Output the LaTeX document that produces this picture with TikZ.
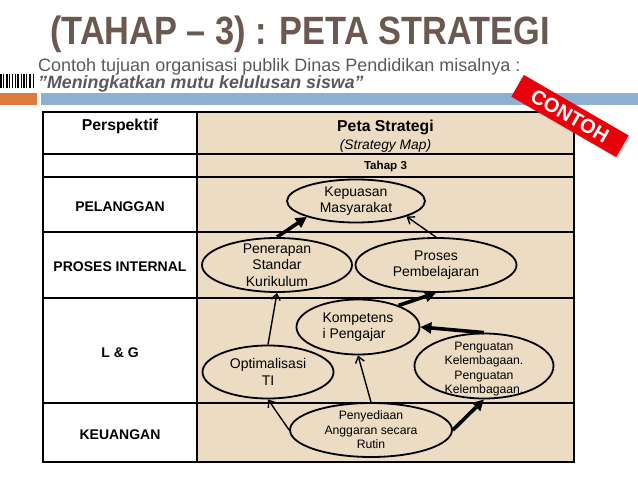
\documentclass[tikz,border=0pt]{standalone}
\usepackage{fontspec}
\setmainfont{Liberation Sans}
\newfontfamily\judulfont{Liberation Sans}[FakeStretch=0.87]
\usetikzlibrary{shapes.geometric,arrows.meta,shadows}

\definecolor{peta}{HTML}{EBDCC3}
\definecolor{judul}{HTML}{6B5850}
\definecolor{teks}{HTML}{595959}
\definecolor{oranye}{HTML}{DE7B3F}
\definecolor{biru}{HTML}{8EB1D1}
\definecolor{merah}{HTML}{E8000B}

\tikzset{
  sasaran/.style={draw, ellipse, line width=1.8pt, fill=peta, inner sep=0pt},
  isi/.style={align=center, inner sep=0pt, font=\fontsize{14}{16.7}\selectfont},
  isikecil/.style={align=center, inner sep=0pt, font=\fontsize{12.2}{14.6}\selectfont},
  persp/.style={anchor=base, inner sep=0pt, font=\fontsize{14}{16}\selectfont\bfseries},
  tebal/.style={line width=3.6pt, -{Triangle[length=11pt,width=11pt]}},
  tipis/.style={line width=1.4pt, -{Straight Barb[length=6pt,width=9pt]}}
}

\begin{document}
\begin{tikzpicture}[x=1pt,y=-1pt]
	\useasboundingbox (0,0) rectangle (638,479);
	%Judul
	\node[anchor=base west, inner sep=0pt, text=judul, font=\judulfont\fontsize{39.5}{40}\selectfont\bfseries] (judul) at (50,45) {(TAHAP – 3) : PETA STRATEGI};
	\node[anchor=base west, inner sep=0pt, text=teks, font=\fontsize{18}{20}\selectfont] (contohteks) at (38,71) {Contoh tujuan organisasi publik Dinas Pendidikan misalnya :};
	\node[anchor=base west, inner sep=0pt, text=teks, font=\fontsize{17.8}{20}\selectfont\bfseries\itshape] (kutipan) at (38,88) {”Meningkatkan mutu kelulusan siswa”};
	%Hiasan kiri
	\foreach \x/\w in {0/1.5, 3/1, 5.5/2, 9/1, 11.5/1.5, 14.5/1, 17/2, 20.5/1, 23/1.5, 26/1, 28.5/2.5, 32.5/1}
		{\fill (\x,74) rectangle ++(\w,14);}
	\fill[oranye] (0,92.5) rectangle (36.5,104.5);
	\fill[biru] (40.5,92.5) rectangle (638,104.5);
	%Tabel
	\fill[peta] (197,112) rectangle (574,462);
	\draw[line width=1.3pt] (43,112) rectangle (574,462);
	\draw[line width=1.3pt] (197,112) -- (197,462);
	\foreach \y in {154,177,232,298,403}
		{\draw[line width=1.3pt] (43,\y) -- (574,\y);}
	\node[persp, font=\fontsize{15.8}{18}\selectfont\bfseries] (perspektif) at (120,130) {Perspektif};
	\node[persp] (pelanggan) at (120,211) {PELANGGAN};
	\node[persp] (internal) at (120,271) {PROSES INTERNAL};
	\node[persp] (lg) at (120,357) {L \& G};
	\node[persp] (keuangan) at (120,439) {KEUANGAN};
	\node[persp, font=\fontsize{15.8}{18}\selectfont\bfseries] (petastrategi) at (385.5,131) {Peta Strategi};
	\node[anchor=base, inner sep=0pt, font=\fontsize{13.8}{16}\selectfont\itshape] (strategymap) at (385.5,149) {(Strategy Map)};
	\node[anchor=base, inner sep=0pt, font=\fontsize{11.6}{14}\selectfont\bfseries] (tahap) at (385.5,169) {Tahap 3};
	%Sasaran strategis
	\node[sasaran, minimum width=138pt, minimum height=43pt, label={[isi]center:{Kepuasan\\Masyarakat}}] (kepu) at (356,201) {};
	\node[sasaran, minimum width=150pt, minimum height=54pt, label={[isi]center:{Penerapan\\Standar\\Kurikulum}}] (pener) at (277,265) {};
	\node[sasaran, minimum width=161pt, minimum height=54pt, label={[isi]center:{Proses\\Pembelajaran}}] (proses) at (436,265) {};
	\node[sasaran, minimum width=123pt, minimum height=55pt, label={[isi, align=left]center:{Kompetens\\i Pengajar}}] (kompet) at (358,327) {};
	\node[sasaran, minimum width=131pt, minimum height=53pt, label={[isi]center:{Optimalisasi\\TI}}] (optim) at (268,372) {};
	\node[sasaran, minimum width=139pt, minimum height=65pt, label={[isikecil, yshift=-3pt]center:{Penguatan\\Kelembagaan.\\Penguatan\\Kelembagaan.}}] (pengu) at (484,366) {};
	\node[sasaran, minimum width=162pt, minimum height=54pt, label={[isikecil]center:{Penyediaan\\Anggaran secara\\Rutin}}] (penyed) at (371,430) {};
	%Panah
	\draw[tebal] (pener.north) -- (kepu.198);
	\draw[tipis] (proses.north) -- (kepu.-17);
	\draw[tebal] (kompet.28) -- (proses.south);
	\draw[tipis] (optim.north) -- (pener.south);
	\draw[tebal] (pengu.north) -- (kompet.east);
	\draw[tipis] (penyed.north) -- (kompet.south);
	\draw[tipis] (penyed.west) -- (optim.south);
	\draw[tebal] (penyed.east) -- (pengu.south);
	%Cap contoh
	\node[rotate=-30, fill=merah, text=white, minimum width=121pt, minimum height=25pt, inner sep=0pt, drop shadow={opacity=0.35, shadow xshift=1.5pt, shadow yshift=-1.5pt}, font=\fontsize{20}{20}\selectfont\bfseries] (contoh) at (570,116) {CONTOH};
\end{tikzpicture}
\end{document}
